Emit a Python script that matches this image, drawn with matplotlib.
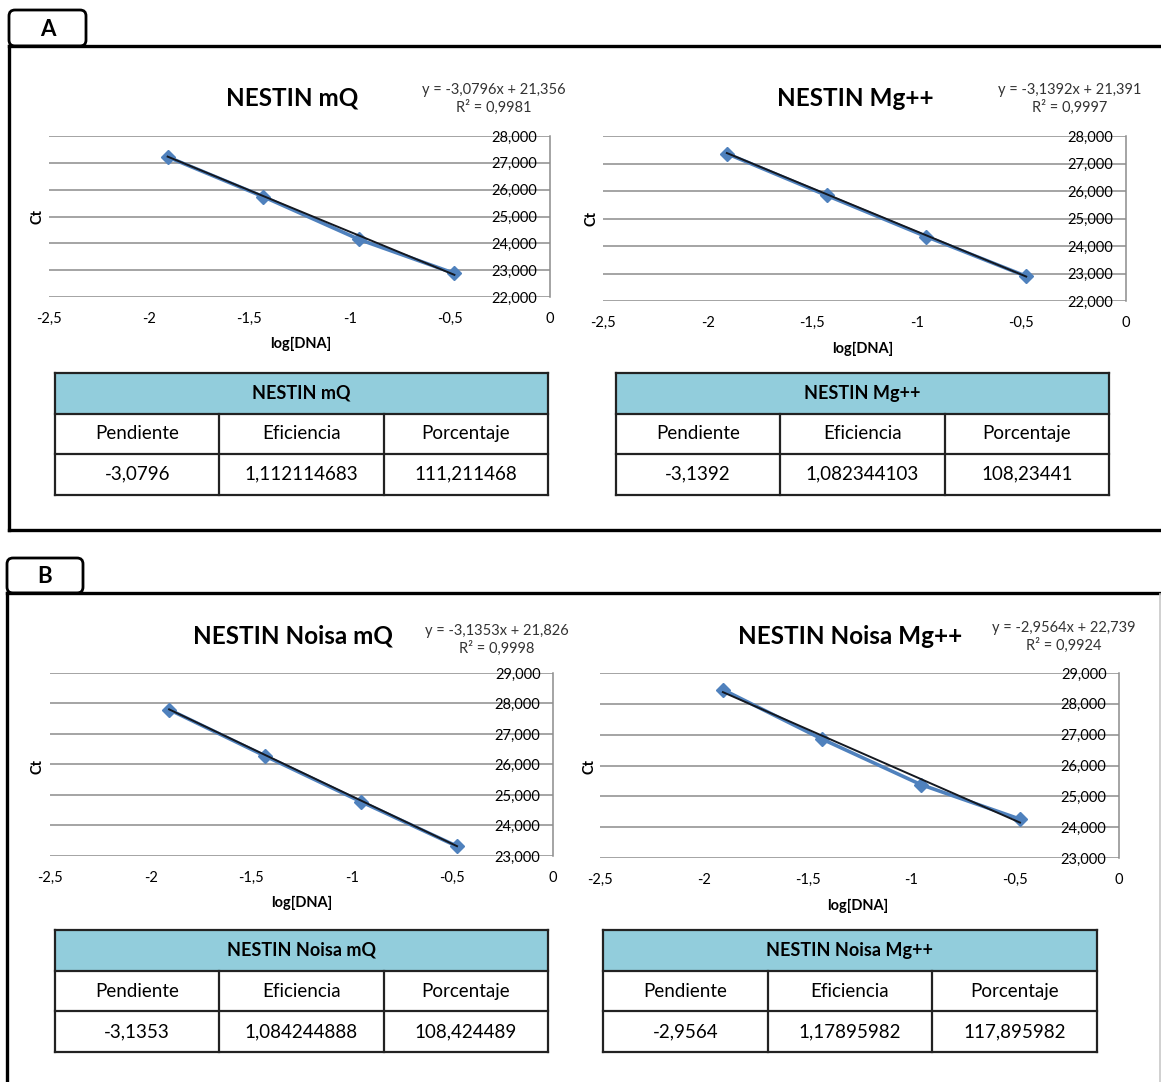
import numpy as np
import matplotlib
matplotlib.use("Agg")
import matplotlib.pyplot as plt
from matplotlib.patches import FancyBboxPatch, Rectangle
from matplotlib.ticker import FuncFormatter

plt.rcParams["font.family"] = ["Lato", "DejaVu Sans"]

W, H = 1161, 1082

# log10 of the 1:3 dilution series
log_dna = [-1.908, -1.431, -0.954, -0.477]

titles = ["NESTIN mQ", "NESTIN Mg++", "NESTIN Noisa mQ", "NESTIN Noisa Mg++"]
ct_mq = [27.22, 25.74, 24.15, 22.88]
ct_mg = [27.36, 25.84, 24.34, 22.90]
ct_noisa_mq = [27.80, 26.28, 24.78, 23.32]
ct_noisa_mg = [28.46, 26.86, 25.38, 24.26]
ct_series = [ct_mq, ct_mg, ct_noisa_mq, ct_noisa_mg]

slopes = [-3.0796, -3.1392, -3.1353, -2.9564]
intercepts = [21.356, 21.391, 21.826, 22.739]
r2 = [0.9981, 0.9997, 0.9998, 0.9924]
eficiencia = [1.112114683, 1.082344103, 1.084244888, 1.17895982]
porcentaje = [111.211468, 108.23441, 108.424489, 117.895982]
y_ranges = [(22, 28), (22, 28), (23, 29), (23, 29)]

BLUE = "#4F81BD"
GRID = "#8C8C8C"
HEAD = "#92CDDC"


def comma(v, fmt="g"):
    return format(v, fmt).replace(".", ",")


fig = plt.figure(figsize=(W / 100, H / 100), dpi=100)
bg = fig.add_axes([0, 0, 1, 1])
bg.set_xlim(0, W)
bg.set_ylim(H, 0)
bg.set_axis_off()


def px_rect(left, right, top, bottom):
    return [left / W, 1 - bottom / H, (right - left) / W, (bottom - top) / H]


def draw_chart(i, box, title_xy, eq_xy, ct_xy, xlab_xy):
    ax = fig.add_axes(px_rect(*box))
    ax.set_facecolor("none")
    ylo, yhi = y_ranges[i]
    ax.plot(log_dna, ct_series[i], color=BLUE, lw=2.6, marker="D", ms=7.5,
            mec=BLUE, mfc=BLUE, zorder=3, clip_on=False)
    xf = np.array([min(log_dna), max(log_dna)])
    ax.plot(xf, slopes[i] * xf + intercepts[i], color="#141820", lw=1.4, zorder=4)
    ax.set_xlim(-2.5, 0)
    ax.set_ylim(ylo, yhi)
    ax.set_xticks(np.arange(-2.5, 0.01, 0.5))
    ax.set_yticks(range(ylo, yhi + 1))
    ax.xaxis.set_major_formatter(FuncFormatter(lambda v, p: comma(round(v, 2))))
    ax.yaxis.set_major_formatter(FuncFormatter(lambda v, p: comma(v, ".3f")))
    ax.grid(axis="y", color=GRID, lw=1.1)
    ax.set_axisbelow(True)
    for s in ["top", "right", "bottom"]:
        ax.spines[s].set_visible(False)
    ax.spines["left"].set_position(("data", 0))
    ax.spines["left"].set_color(GRID)
    ax.spines["left"].set_linewidth(1.1)
    ax.tick_params(axis="x", length=0, pad=11, labelsize=10.5)
    ax.tick_params(axis="y", length=0, pad=9, labelsize=10.5)

    bg.text(*title_xy, titles[i], ha="center", va="center", fontsize=17.5, fontweight="bold")
    eq = f"y = {comma(slopes[i])}x + {comma(intercepts[i])}\nR² = {comma(r2[i])}"
    bg.text(*eq_xy, eq, ha="center", va="center", fontsize=10.5, color="#333333", linespacing=1.3)
    bg.text(*ct_xy, "Ct", ha="center", va="center", rotation=90, fontsize=10.5, fontweight="bold")
    bg.text(*xlab_xy, "log[DNA]", ha="center", va="center", fontsize=10.5, fontweight="bold")


def draw_table(i, left, right, top, row_h):
    col_w = (right - left) / 3
    bg.add_patch(Rectangle((left, top), right - left, row_h, facecolor=HEAD, edgecolor="none"))
    for k in range(4):
        bg.plot([left, right], [top + k * row_h] * 2, color="#222222", lw=1.6)
    for k in range(4):
        x = left + k * col_w
        y0 = top if k in (0, 3) else top + row_h
        bg.plot([x, x], [y0, top + 3 * row_h], color="#222222", lw=1.6)
    bg.text((left + right) / 2, top + row_h / 2, titles[i], ha="center", va="center",
            fontsize=13, fontweight="bold")
    heads = ["Pendiente", "Eficiencia", "Porcentaje"]
    vals = [comma(slopes[i]), str(eficiencia[i]).replace(".", ","),
            str(porcentaje[i]).replace(".", ",")]
    for k in range(3):
        cx = left + (k + 0.5) * col_w
        bg.text(cx, top + 1.5 * row_h, heads[k], ha="center", va="center", fontsize=13.5)
        bg.text(cx, top + 2.5 * row_h, vals[k], ha="center", va="center", fontsize=13.5)


def draw_panel(letter, tab, frame_top, frame_left, frame_bottom):
    x0, x1, y0, y1 = tab
    bg.add_patch(FancyBboxPatch((x0, y0), x1 - x0, y1 - y0,
                                boxstyle="round,pad=0,rounding_size=6",
                                facecolor="white", edgecolor="black", lw=2.0))
    bg.text((x0 + x1) / 2, (y0 + y1) / 2 + 1, letter, ha="center", va="center",
            fontsize=16, fontweight="bold")
    bg.plot([frame_left, W + 5], [frame_top, frame_top], color="black", lw=2.4,
            solid_capstyle="projecting")
    bg.plot([frame_left, frame_left], [frame_top, frame_bottom], color="black", lw=2.4,
            solid_capstyle="projecting")
    if frame_bottom < H:
        bg.plot([frame_left, W + 5], [frame_bottom, frame_bottom], color="black", lw=2.4,
                solid_capstyle="projecting")


draw_panel("A", (9, 86, 10, 46), 46, 9, 530)
draw_panel("B", (7, 83, 558, 593), 593, 7, H + 10)
bg.plot([W - 1.5, W - 1.5], [594, H], color="#C8C8C8", lw=1.2)

draw_chart(0, (49, 550, 136, 297), (292, 98), (494, 99), (37, 216), (301, 344))
draw_chart(1, (603, 1126, 136, 301), (855, 98), (1070, 99), (592, 218), (863, 349))
draw_chart(2, (50, 553, 673, 856), (293, 636), (497, 640), (37, 766), (302, 903))
draw_chart(3, (600, 1119, 673, 858), (850, 636), (1064, 637), (590, 767), (858, 906))

draw_table(0, 55, 548, 373, 40.5)
draw_table(1, 616, 1109, 373, 40.5)
draw_table(2, 55, 548, 930, 40.7)
draw_table(3, 603, 1097, 930, 40.7)

fig.savefig("out.png", dpi=100)
